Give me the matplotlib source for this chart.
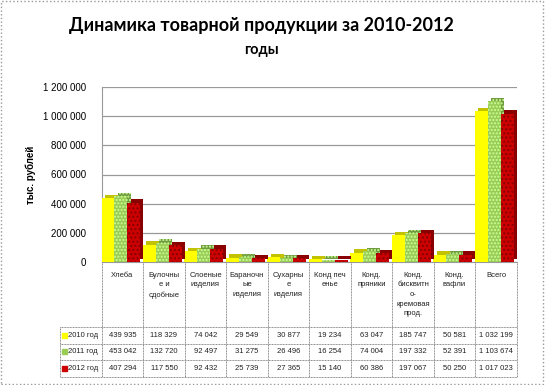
import matplotlib
matplotlib.use('Agg')
import matplotlib.pyplot as plt
import matplotlib.patheffects as pe
from matplotlib.patches import Rectangle
import numpy as np

# data
categories = ['Хлеба', 'Булочны\nе и\nсдобные', 'Слоеные\nизделия', 'Бараночн\nые\nизделия',
              'Сухарны\nе\nизделия', 'Конд печ\nенье', 'Конд.\nпряники',
              'Конд.\nбисквитн\nо-\nкремовая\nпрод.', 'Конд.\nвафли', 'Всего']
years = ['2010 год', '2011 год', '2012 год']
v2010 = [439935, 118329, 74042, 29549, 30877, 19234, 63047, 185747, 50581, 1032199]
v2011 = [453042, 132720, 92497, 31275, 26496, 16254, 74004, 197332, 52391, 1103674]
v2012 = [407294, 117550, 92432, 25739, 27365, 15140, 60386, 197067, 50250, 1017023]
series = [v2010, v2011, v2012]
yticks = [0, 200000, 400000, 600000, 800000, 1000000, 1200000]

face = ['#ffff00', '#99cc55', '#cc0000']
hatchc = ['#ffff00', '#ccff99', '#880000']
dark = ['#c2c200', '#6f9a3e', '#8a0000']
hatches = [None, '.....', '....']


def fmt(v):
    return f'{v:,}'.replace(',', ' ')


W, H = 545, 385
fig = plt.figure(figsize=(W / 100, H / 100), dpi=100)
fig.patch.set_facecolor('white')

x0, cw = 101.7, 41.5
ax = fig.add_axes([x0 / W, 1 - 262 / H, 10 * cw / W, 175 / H])
ax.set_xlim(-0.5, 9.5)
ax.set_ylim(0, 1200000)

x = np.arange(len(categories))
bw = 0.31
for i, vals in enumerate(series):
    bars = ax.bar(x + (i - 1) * bw - 0.04, vals, bw, color=face[i], edgecolor=hatchc[i],
                  linewidth=0, hatch=hatches[i], zorder=3)
    for b in bars:
        b.set_path_effects([pe.SimplePatchShadow(offset=(2.4, 2.4), shadow_rgbFace=dark[i], alpha=1),
                            pe.Normal()])

ax.set_yticks(yticks)
ax.set_yticklabels([fmt(t) for t in yticks], fontsize=7, family='Liberation Sans')
ax.tick_params(axis='y', length=0, pad=11)
ax.set_xticks([])
ax.grid(axis='y', color='#999999', linewidth=0.9, zorder=0)
for s in ['top', 'right']:
    ax.spines[s].set_visible(False)
ax.spines['left'].set_color('#999999')
ax.spines['bottom'].set_color('#999999')
ax.set_ylabel('тыс. рублей', fontsize=7, fontweight='bold', family='Liberation Sans', labelpad=5)

# title
fig.text(261 / W, 1 - 25 / H, 'Динамика товарной продукции за 2010-2012', ha='center', va='center',
         fontsize=13, fontweight='bold', family='Lato')
fig.text(261 / W, 1 - 50 / H, 'годы', ha='center', va='center',
         fontsize=10.5, fontweight='bold', family='Lato')

# data table under the chart
tab = fig.add_axes([0, 0, 1, 1])
tab.set_xlim(0, W)
tab.set_ylim(H, 0)
tab.axis('off')
tab.patch.set_visible(False)

lc = '#888888'
rows_y = [327, 343.5, 360, 376.5]
for k in range(len(categories) + 1):
    tab.plot([x0 + k * cw] * 2, [262, rows_y[-1]], color=lc, lw=0.7, ls=(0, (1, 0.6)))
tab.plot([60, 60], [rows_y[0], rows_y[-1]], color=lc, lw=0.7, ls=(0, (1, 0.6)))
for yy in rows_y:
    tab.plot([60, x0 + 10 * cw], [yy, yy], color=lc, lw=0.7, ls=(0, (1, 0.6)))

for k, c in enumerate(categories):
    tab.text(x0 + (k + 0.5) * cw, 272, c, ha='center', va='top', fontsize=5.5,
             family='Liberation Sans', linespacing=1.5, color='#222222')

for i, vals in enumerate(series):
    yc = (rows_y[i] + rows_y[i + 1]) / 2
    tab.add_patch(Rectangle((62, yc - 2.5), 5, 5, color=face[i]))
    tab.text(68, yc, years[i], ha='left', va='center', fontsize=5.5, family='Liberation Sans',
             color='#222222')
    for k, v in enumerate(vals):
        tab.text(x0 + (k + 0.5) * cw, yc, fmt(v), ha='center', va='center', fontsize=5.5,
                 family='Liberation Sans', color='#222222')

# outer frame
fig.add_artist(Rectangle((0.002, 0.003), 0.995, 0.994, transform=fig.transFigure, fill=False,
                         ec='#999999', lw=1, ls=':'))

fig.savefig('out.png', dpi=100)
